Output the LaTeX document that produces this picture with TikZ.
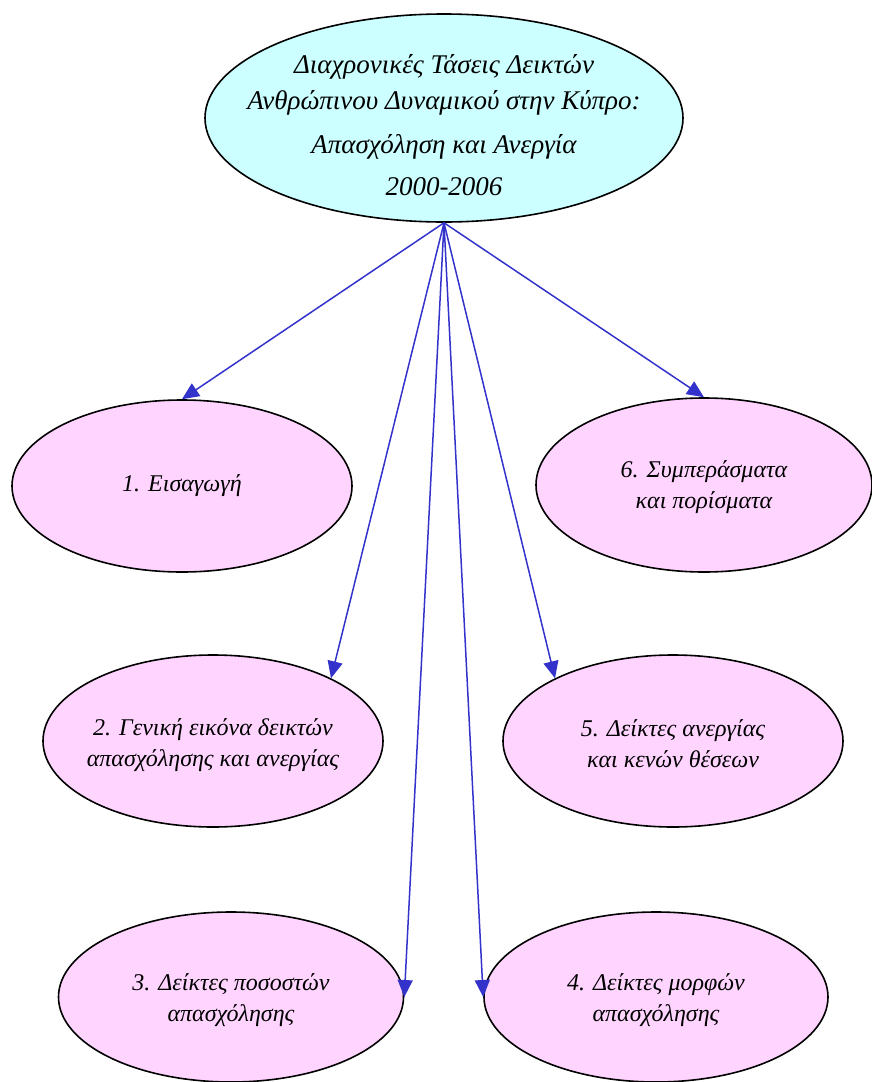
\documentclass[tikz,border=0pt]{standalone}
\usepackage{fontspec}
\setmainfont{Liberation Serif}
\usetikzlibrary{shapes.geometric,arrows.meta}
\definecolor{cyanfill}{HTML}{CCFFFF}
\definecolor{pinkfill}{HTML}{FFD5FF}
\definecolor{linkblue}{HTML}{3333CC}
\newcommand{\lowtext}[1]{\rule{0pt}{#1}}

\begin{document}
\begin{tikzpicture}[x=1pt,y=-1pt,
  topic/.style={ellipse,draw,line width=1.6pt,fill=pinkfill,
    inner xsep=-30pt,inner ysep=0pt,
    minimum width=340pt,minimum height=172pt,align=center,
    font=\fontsize{24}{31}\selectfont\itshape},
  link/.style={draw=linkblue,line width=1.5pt,-{Triangle[length=17pt,width=15pt]}}]
\useasboundingbox (0,0) rectangle (872,1082);

% main title
\node (title) [topic,fill=cyanfill,minimum width=478pt,minimum height=208pt,
  inner xsep=-40pt,inner ysep=-30pt,
  font=\fontsize{27}{36}\selectfont\itshape] at (444,118) {
  \lowtext{34pt}Διαχρονικές Τάσεις Δεικτών\\
  Ανθρώπινου Δυναμικού στην Κύπρο:\\[8pt]
  Απασχόληση και Ανεργία\\[6pt]
  2000-2006
};

% chapters
\node (intro) [topic] at (182,486) {1. Εισαγωγή};
\node (concl) [topic,minimum width=336pt,minimum height=174pt] at (704,485) {\lowtext{22pt}6. Συμπεράσματα\\και πορίσματα};
\node (general) [topic] at (213,741) {\lowtext{26pt}2. Γενική εικόνα δεικτών\\απασχόλησης και ανεργίας};
\node (unemp) [topic] at (673,741) {\lowtext{22pt}5. Δείκτες ανεργίας\\και κενών θέσεων};
\node (rates) [topic,minimum width=345pt,minimum height=170pt] at (231,997) {\lowtext{24pt}3. Δείκτες ποσοστών\\απασχόλησης};
\node (forms) [topic,minimum width=344pt,minimum height=170pt] at (656,997) {\lowtext{24pt}4. Δείκτες μορφών\\απασχόλησης};

\draw [link] (title.south) -- (intro.north);
\draw [link] (title.south) -- (general.28);
\draw [link] (title.south) -- (rates.east);
\draw [link] (title.south) -- (forms.west);
\draw [link] (title.south) -- (unemp.152);
\draw [link] (title.south) -- (concl.north);
\end{tikzpicture}
\end{document}
